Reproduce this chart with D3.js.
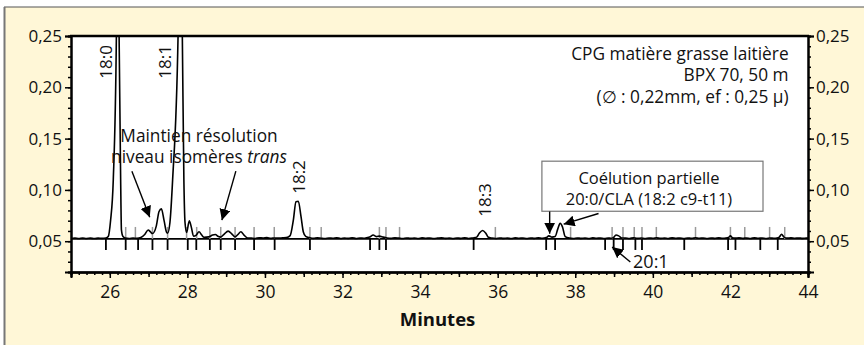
<!DOCTYPE html>
<html>
<head>
<meta charset="utf-8">
<script src="https://cdn.jsdelivr.net/npm/d3@7"></script>
<style>
body { margin: 0; background: #fff; }
svg text { font-family: "Open Sans", sans-serif; fill: #111; }
</style>
</head>
<body>
<svg id="mainSvg" width="864" height="345"></svg>
<script>
// chromatogram, [minutes, signal]
var chromatogram = [
	[25.00,.0527],[25.10,.0531],[25.20,.0526],[25.30,.0531],[25.40,.0527],[25.50,.0530],[25.60,.0526],[25.70,.0530],[25.80,.0528],[25.90,.0531],
	[25.96,.0545],[26.02,.0700],[26.09,.1100],[26.17,.2500],[26.205,.4000],[26.24,.2500],[26.28,.1100],[26.30,.0610],[26.34,.0545],
	[26.40,.0530],[26.50,.0527],[26.60,.0531],[26.70,.0528],[26.80,.0536],[26.90,.0565],[26.99,.0610],[27.05,.0590],[27.10,.0575],
	[27.20,.0650],[27.27,.0790],[27.33,.0815],[27.40,.0700],[27.46,.0590],[27.49,.0578],
	[27.55,.0680],[27.62,.1100],[27.76,.2500],[27.815,.4000],[27.87,.2500],[27.91,.1100],[27.94,.0680],[27.98,.0585],
	[28.05,.0700],[28.10,.0640],[28.16,.0548],[28.23,.0560],[28.30,.0592],[28.37,.0560],[28.43,.0538],[28.55,.0542],[28.65,.0560],
	[28.72,.0565],[28.80,.0545],[28.86,.0540],[28.95,.0570],[29.05,.0598],[29.15,.0570],[29.23,.0542],[29.30,.0565],[29.38,.0592],
	[29.46,.0560],[29.55,.0532],[29.65,.0530],[29.75,.0527],[29.85,.0534],[29.95,.0531],[30.05,.0536],[30.15,.0528],[30.25,.0532],
	[30.35,.0530],[30.45,.0533],[30.55,.0536],[30.65,.0555],[30.73,.0700],[30.80,.0885],[30.86,.0890],[30.93,.0740],[30.99,.0590],
	[31.05,.0548],[31.15,.0535],[31.25,.0528],[31.35,.0533],[31.45,.0529],[31.55,.0526],[31.65,.0532],[31.75,.0529],[31.85,.0534],
	[31.95,.0527],[32.05,.0531],[32.15,.0528],[32.25,.0533],[32.35,.0527],[32.45,.0531],[32.55,.0529],[32.62,.0534],
	[32.70,.0540],[32.79,.0560],[32.88,.0545],[32.95,.0550],[33.05,.0540],[33.15,.0532],
	[33.25,.0528],[33.35,.0533],[33.45,.0530],[33.55,.0526],[33.65,.0532],[33.75,.0528],[33.85,.0531],[33.95,.0526],[34.05,.0533],
	[34.15,.0529],[34.25,.0532],[34.35,.0527],[34.45,.0530],[34.55,.0534],[34.65,.0528],[34.75,.0531],[34.85,.0526],[34.95,.0532],
	[35.05,.0528],[35.15,.0533],[35.25,.0527],[35.35,.0531],[35.40,.0534],
	[35.46,.0540],[35.53,.0580],[35.61,.0605],[35.69,.0580],[35.76,.0538],
	[35.85,.0531],[35.95,.0527],[36.05,.0532],[36.15,.0528],[36.25,.0530],[36.35,.0526],[36.45,.0533],[36.55,.0529],[36.65,.0531],
	[36.75,.0527],[36.85,.0532],[36.95,.0528],[37.05,.0533],[37.15,.0529],
	[37.25,.0535],[37.32,.0552],[37.40,.0540],[37.48,.0545],[37.55,.0620],[37.61,.0675],[37.67,.0640],[37.74,.0545],
	[37.85,.0530],[37.95,.0527],[38.05,.0532],[38.15,.0528],[38.25,.0531],[38.35,.0526],[38.45,.0533],[38.55,.0529],[38.65,.0531],
	[38.75,.0527],[38.85,.0532],[38.92,.0529],[38.98,.0535],[39.05,.0560],[39.12,.0552],[39.20,.0532],
	[39.30,.0531],[39.40,.0527],[39.50,.0533],[39.60,.0528],[39.70,.0531],[39.80,.0526],[39.90,.0532],[40.00,.0529],[40.10,.0533],
	[40.20,.0528],[40.30,.0531],[40.40,.0527],[40.50,.0533],[40.60,.0529],[40.70,.0531],[40.80,.0527],[40.90,.0532],[41.00,.0528],
	[41.10,.0533],[41.20,.0529],[41.30,.0531],[41.40,.0527],[41.50,.0532],[41.60,.0528],[41.70,.0533],[41.80,.0529],[41.88,.0531],
	[41.95,.0537],[42.00,.0552],[42.05,.0535],
	[42.12,.0530],[42.22,.0534],[42.32,.0528],[42.42,.0532],[42.52,.0527],[42.62,.0533],[42.72,.0529],[42.82,.0531],[42.92,.0527],
	[43.02,.0532],[43.12,.0529],[43.20,.0531],[43.26,.0540],[43.32,.0568],[43.38,.0540],
	[43.46,.0530],[43.56,.0534],[43.66,.0529],[43.76,.0532],[43.86,.0528],[43.96,.0531],[44.00,.0530]
];
var baselineLevel = 0.0522;
// integration marks
var marksAbove = [26.41, 26.66, 27.10, 27.49, 27.98, 28.24, 28.58, 28.86, 29.23, 29.72, 30.24, 31.16, 31.45, 32.95, 33.12, 33.47, 35.94, 37.88, 38.95, 39.23, 39.52, 39.72, 40.09, 41.10, 42.00, 42.37, 43.01, 43.40];
var marksBelow = [25.90, 26.41, 26.73, 27.10, 27.49, 28.01, 28.23, 28.58, 28.86, 29.23, 29.72, 30.25, 31.16, 32.71, 32.95, 33.12, 35.38, 37.25, 37.48, 38.77, 38.99, 39.23, 39.55, 39.72, 40.81, 41.94, 42.13, 42.77, 43.22];
// peak labels: name, minutes, value at end of text
var peakNames = ["18:0", "18:1", "18:2", "18:3"];
var peakLabelX = [26.05, 27.59, 31.02, 35.83];
var peakLabelY = [0.2412, 0.2412, 0.129, 0.1066];
var yTicks = [0.05, 0.10, 0.15, 0.20, 0.25];
var xTicks = [26, 28, 30, 32, 34, 36, 38, 40, 42, 44];
var infoLines = ["CPG matière grasse laitière", "BPX 70, 50 m", "(\u2205 : 0,22mm, ef : 0,25 \u00b5)"];
var coelutionLines = ["Coélution partielle", "20:0/CLA (18:2 c9-t11)"];

var map = {left: 71, right: 808, top: 36, bottom: 272};
var mainSvg = d3.select("#mainSvg");

// panel
mainSvg.append("rect").attr("x", 4).attr("y", 7).attr("width", 860).attr("height", 338).attr("fill", "#fff7d7");
mainSvg.append("line").attr("x1", 4).attr("x2", 864).attr("y1", 7).attr("y2", 7).attr("style", "stroke:#555;stroke-width:1.2");
mainSvg.append("line").attr("x1", 4.5).attr("x2", 4.5).attr("y1", 7).attr("y2", 345).attr("style", "stroke:#777;stroke-width:2");
mainSvg.append("rect").attr("x", map.left).attr("y", map.top).attr("width", map.right - map.left).attr("height", map.bottom - map.top).attr("fill", "#fff");

var x = d3.scaleLinear().domain([25, 44]).range([map.left, map.right]);
var y = d3.scaleLinear().domain([0.02, 0.25]).range([map.bottom, map.top]);
var fmt = function(d) { return d3.format(".2f")(d).replace(".", ","); };

mainSvg.append("clipPath").attr("id", "plotClip").append("rect").attr("x", map.left).attr("y", map.top).attr("width", map.right - map.left).attr("height", map.bottom - map.top);
var plot = mainSvg.append("g").attr("clip-path", "url(#plotClip)");

// baseline
plot.append("line").attr("x1", map.left).attr("x2", map.right).attr("y1", y(baselineLevel)).attr("y2", y(baselineLevel)).attr("style", "stroke:#000;stroke-width:1.8");

plot.selectAll(".markUp").data(marksAbove).enter().append("line").attr("class", "markUp").attr("x1", function(d) {
	return x(d);
}).attr("x2", function(d) {
	return x(d);
}).attr("y1", y(baselineLevel)).attr("y2", y(baselineLevel) - 12).attr("style", "stroke:#9a9a9a;stroke-width:1.5");
plot.selectAll(".markDown").data(marksBelow).enter().append("line").attr("class", "markDown").attr("x1", function(d) {
	return x(d);
}).attr("x2", function(d) {
	return x(d);
}).attr("y1", y(baselineLevel)).attr("y2", y(baselineLevel) + 11).attr("style", "stroke:#000;stroke-width:1.8");

var line = d3.line().x(function(d) { return x(d[0]); }).y(function(d) { return y(d[1]); }).curve(d3.curveMonotoneX);
plot.append("path").datum(chromatogram).attr("d", line).attr("fill", "none").attr("style", "stroke:#000;stroke-width:1.6;stroke-linejoin:round");

// axes
function styleAxis(g, w)
{
	g.select(".domain").attr("style", "stroke:#000;stroke-width:" + w);
	g.selectAll(".tick line").attr("style", "stroke:#000;stroke-width:1.5");
	g.selectAll("text").attr("font-size", "17px").attr("fill", "#111").attr("font-family", "Open Sans");
}
var yMinor = d3.range(0.02, 0.2501, 0.01);
mainSvg.append("g").attr("transform", "translate(" + map.left + ",0)").call(d3.axisLeft(y).tickValues(yMinor).tickSize(3).tickFormat("")).call(styleAxis, 2);
mainSvg.append("g").attr("transform", "translate(" + map.left + ",0)").call(d3.axisLeft(y).tickValues(yTicks).tickSize(6).tickPadding(3).tickFormat(fmt)).call(styleAxis, 2);
mainSvg.append("g").attr("transform", "translate(" + map.right + ",0)").call(d3.axisRight(y).tickValues(yMinor).tickSize(3).tickFormat("")).call(styleAxis, 2);
mainSvg.append("g").attr("transform", "translate(" + map.right + ",0)").call(d3.axisRight(y).tickValues(yTicks).tickSize(6).tickPadding(2).tickFormat(fmt)).call(styleAxis, 2);
var xMinor = d3.range(25, 44.001, 0.2);
mainSvg.append("g").attr("transform", "translate(0," + map.bottom + ")").call(d3.axisBottom(x).tickValues(xMinor).tickSize(3).tickFormat("")).call(styleAxis, 2);
mainSvg.append("g").attr("transform", "translate(0," + map.bottom + ")").call(d3.axisBottom(x).tickValues(d3.range(25, 44, 2)).tickSize(5).tickFormat("")).call(styleAxis, 2);
var xAxis = mainSvg.append("g").attr("transform", "translate(0," + map.bottom + ")").call(d3.axisBottom(x).tickValues(xTicks).tickSize(6).tickPadding(8).tickFormat(d3.format("d"))).call(styleAxis, 2);
xAxis.selectAll("text").attr("font-size", "17.5px");
mainSvg.append("line").attr("x1", map.left - 1).attr("x2", map.right + 1).attr("y1", map.top).attr("y2", map.top).attr("style", "stroke:#000;stroke-width:2.6");

mainSvg.append("text").attr("x", (map.left + map.right) / 2 - 2).attr("y", 326).attr("text-anchor", "middle").attr("font-size", "18.5px").attr("font-weight", "bold").text("Minutes");

// peak labels
mainSvg.selectAll(".peakLabel").data(peakNames).enter().append("text").attr("class", "peakLabel").attr("transform", function(d, i) {
	return "translate(" + x(peakLabelX[i]) + "," + y(peakLabelY[i]) + ") rotate(-90)";
}).attr("text-anchor", "end").attr("font-size", "17px").text(function(d) {
	return d;
});

// info text
mainSvg.selectAll(".info").data(infoLines).enter().append("text").attr("class", "info").attr("x", x(43.5)).attr("y", function(d, i) {
	return y(0.2266 - i * 0.0208);
}).attr("text-anchor", "end").attr("font-size", "17.3px").text(function(d) {
	return d;
});

// trans annotation
var tr = mainSvg.append("g").attr("font-size", "17.3px");
tr.append("text").attr("x", x(28.3)).attr("y", y(0.1469)).attr("text-anchor", "middle").text("Maintien résolution");
var t2 = tr.append("text").attr("x", x(28.3)).attr("y", y(0.1258)).attr("text-anchor", "middle");
t2.append("tspan").text("niveau isomères ");
t2.append("tspan").attr("font-style", "italic").text("trans");

// coelution box
mainSvg.append("rect").attr("x", x(37.14)).attr("y", y(0.1280)).attr("width", x(42.84) - x(37.14)).attr("height", y(0.0792) - y(0.1280)).attr("fill", "#fff").attr("style", "stroke:#777;stroke-width:1.2");
mainSvg.selectAll(".coel").data(coelutionLines).enter().append("text").attr("class", "coel").attr("x", x(39.9)).attr("y", function(d, i) {
	return y(0.1058 - i * 0.0205);
}).attr("text-anchor", "middle").attr("font-size", "16.5px").text(function(d) {
	return d;
});
mainSvg.append("text").attr("x", x(39.49)).attr("y", y(0.0237)).attr("font-size", "18px").text("20:1");

// arrows
var defs = mainSvg.append("defs");
defs.append("marker").attr("id", "head").attr("viewBox", "0 0 10 10").attr("refX", 10).attr("refY", 5).attr("markerWidth", 11).attr("markerHeight", 11).attr("markerUnits", "userSpaceOnUse").attr("orient", "auto").append("path").attr("d", "M0,0L10,5L0,10Z").attr("fill", "#000");
var arrows = [
	[26.57, 0.1183, 27.03, 0.0734],
	[29.25, 0.1183, 28.89, 0.0705],
	[37.34, 0.0790, 37.34, 0.0573],
	[38.60, 0.0770, 37.70, 0.0666],
	[39.42, 0.0298, 38.95, 0.0444]
];
mainSvg.selectAll(".arrow").data(arrows).enter().append("line").attr("class", "arrow").attr("x1", function(d) {
	return x(d[0]);
}).attr("y1", function(d) {
	return y(d[1]);
}).attr("x2", function(d) {
	return x(d[2]);
}).attr("y2", function(d) {
	return y(d[3]);
}).attr("marker-end", "url(#head)").attr("style", "stroke:#000;stroke-width:1.4");
</script>
</body>
</html>
